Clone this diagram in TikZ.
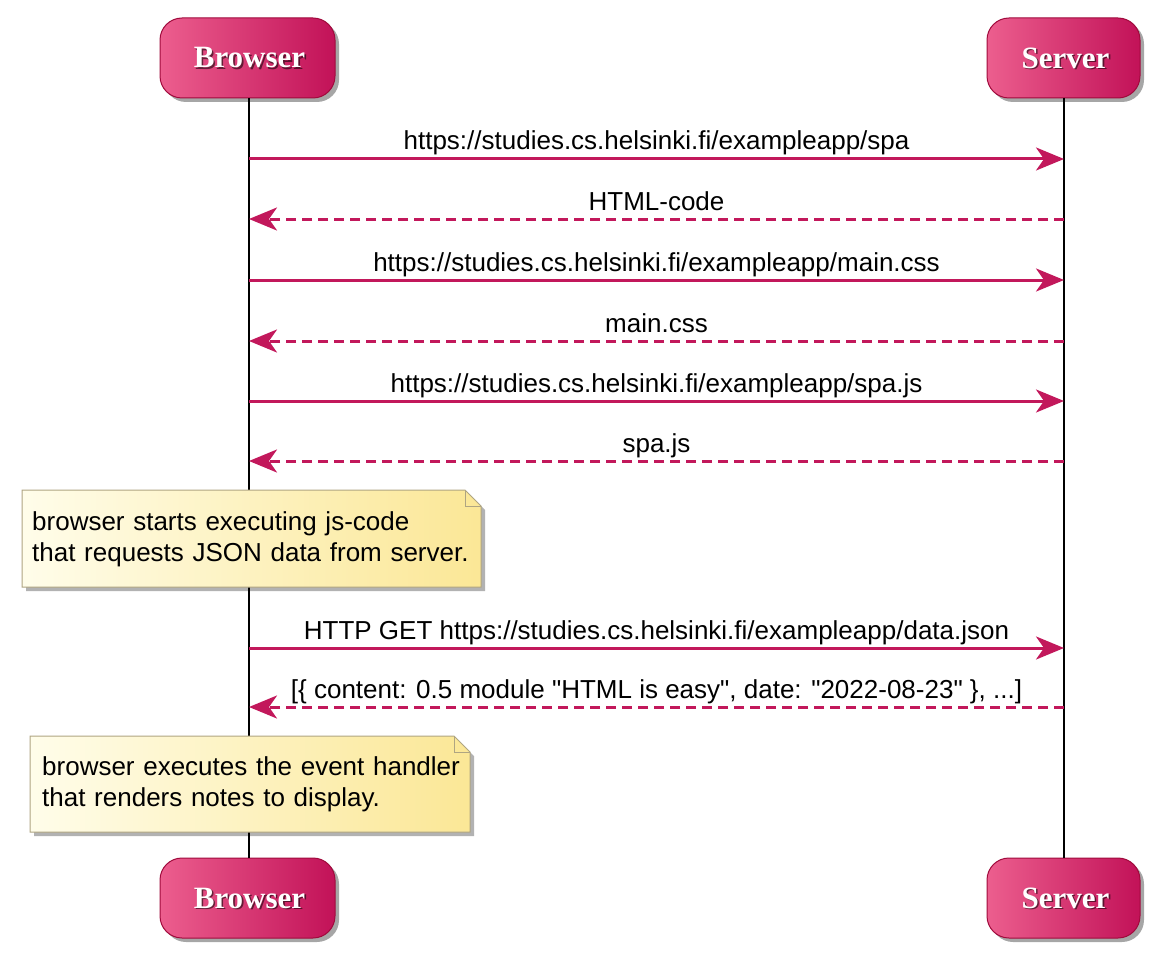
\documentclass[tikz,border=0pt]{standalone}
\usepackage{fontspec}
\setmainfont{Liberation Sans}[Ligatures=TeXOff]
\newfontfamily\pfont{Liberation Serif}
\usetikzlibrary{arrows.meta,shadows}
\definecolor{arr}{RGB}{194,24,91}
\definecolor{pl}{RGB}{236,94,142}
\definecolor{pr}{RGB}{194,18,88}
\definecolor{pb}{RGB}{160,10,60}
\definecolor{nl}{RGB}{255,253,234}
\definecolor{nr}{RGB}{251,231,150}
\definecolor{nb}{RGB}{175,165,130}
\begin{document}
\begin{tikzpicture}[x=1pt,y=-1pt,
  partbox/.style={rounded corners=22pt, left color=pl, right color=pr, draw=pb, line width=1pt,
    inner sep=0pt, minimum height=80pt,
    drop shadow={shadow xshift=4pt, shadow yshift=-4pt, opacity=0.35, fill=black}},
  parttext/.style={font=\pfont\bfseries\fontsize{31}{31}\selectfont, text=white, inner sep=0pt},
  partshadow/.style={font=\pfont\bfseries\fontsize{31}{31}\selectfont, text=black, opacity=0.55, inner sep=0pt},
  life/.style={line width=2pt, black},
  msg/.style={line width=3pt, arr, -{Stealth[length=28pt, width=23pt, inset=8pt]}},
  reply/.style={msg, dash pattern=on 10pt off 6pt},
  lbl/.style={font=\fontsize{26}{31}\selectfont, text=black, inner sep=0pt, anchor=base},
  notebg/.style={left color=nl, right color=nr, draw=nb, line width=1pt},
  noteshadow/.style={fill=black, opacity=0.3},
  notetext/.style={font=\fontsize{26}{31.5}\selectfont, align=left, text width=460pt, inner sep=0pt, anchor=base west}
]
\useasboundingbox (0,0) rectangle (1166,960);

% participants
\node[partbox, minimum width=175pt] (b1) at (247.5,58) {};
\node[partbox, minimum width=153pt] (s1) at (1063.5,58) {};
\node[partbox, minimum width=175pt] (b2) at (247.5,898) {};
\node[partbox, minimum width=153pt] (s2) at (1063.5,898) {};
\foreach \n/\t in {b1/Browser, s1/Server, b2/Browser, s2/Server}{
  \node[partshadow] (\n sh) at ([xshift=3.6pt, yshift=-1.6pt]\n.center) {\t};
  \node[parttext] (\n t) at ([xshift=2pt]\n.center) {\t};
}

% lifelines
\coordinate (bt) at (249,98);
\coordinate (bb) at (249,858);
\coordinate (st) at (1064,98);
\coordinate (sb) at (1064,858);
\draw[life] (bt) -- (bb);
\draw[life] (st) -- (sb);

% message endpoints
\foreach \i/\y in {1/159, 2/219, 3/280, 4/341, 5/401, 6/461, 7/648, 8/707}{
  \coordinate (B\i) at (249,\y);
  \coordinate (S\i) at (1064,\y);
}

\draw[msg] (B1) -- (S1) node[lbl, pos=0.5, yshift=9pt] (m1) {https://studies.cs.helsinki.fi/exampleapp/spa};
\draw[reply] (S2) -- (B2) node[lbl, pos=0.5, yshift=9pt] (m2) {HTML-code};
\draw[msg] (B3) -- (S3) node[lbl, pos=0.5, yshift=9pt] (m3) {https://studies.cs.helsinki.fi/exampleapp/main.css};
\draw[reply] (S4) -- (B4) node[lbl, pos=0.5, yshift=9pt] (m4) {main.css};
\draw[msg] (B5) -- (S5) node[lbl, pos=0.5, yshift=9pt] (m5) {https://studies.cs.helsinki.fi/exampleapp/spa.js};
\draw[reply] (S6) -- (B6) node[lbl, pos=0.5, yshift=9pt] (m6) {spa.js};
\draw[msg] (B7) -- (S7) node[lbl, pos=0.5, yshift=9pt] (m7) {HTTP GET https://studies.cs.helsinki.fi/exampleapp/data.json};
\draw[reply] (S8) -- (B8) node[lbl, pos=0.5, yshift=9pt] (m8) {[\{ content: 0.5 module "HTML is easy", date: "2022-08-23" \}, ...]};

% note 1
\fill[noteshadow] (26,494) -- (469,494) -- (485,510) -- (485,591) -- (26,591) -- cycle;
\path[notebg] (22,490) -- (465,490) -- (481,506) -- (481,587) -- (22,587) -- cycle;
\draw[nb, line width=1pt] (465,490) -- (465,506) -- (481,506);
\node[notetext] (n1) at (32,530) {browser starts executing js-code\\that requests JSON data from server.};

% note 2
\fill[noteshadow] (34,740) -- (458,740) -- (474,756) -- (474,836) -- (34,836) -- cycle;
\path[notebg] (30,736) -- (454,736) -- (470,752) -- (470,832) -- (30,832) -- cycle;
\draw[nb, line width=1pt] (454,736) -- (454,752) -- (470,752);
\node[notetext] (n2) at (42,775) {browser executes the event handler\\that renders notes to display.};
\end{tikzpicture}
\end{document}
